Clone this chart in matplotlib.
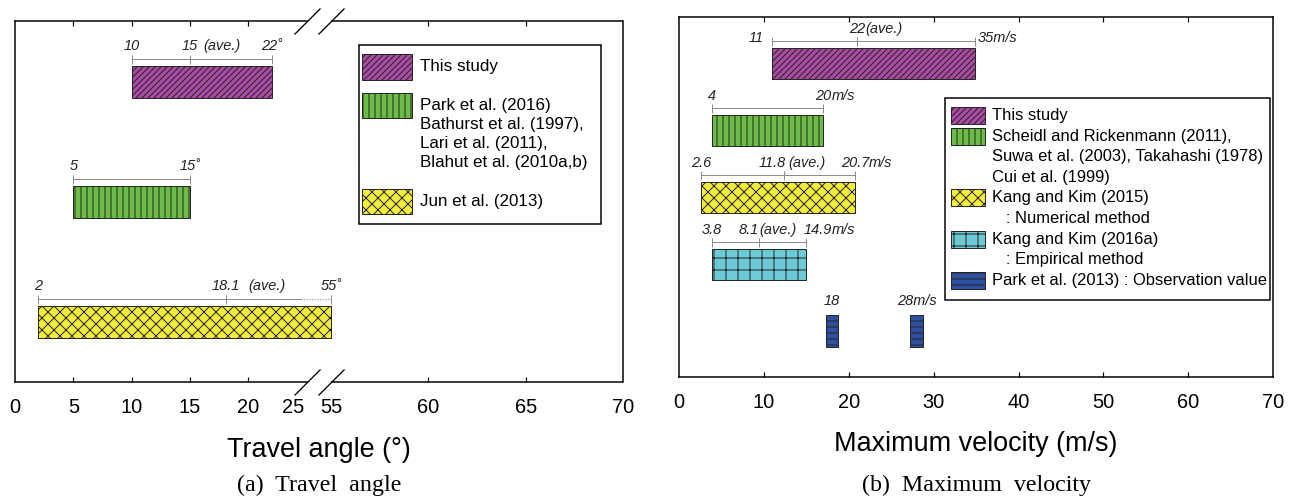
import numpy as np
import matplotlib
matplotlib.use("Agg")
import matplotlib.pyplot as plt
from matplotlib.patches import Rectangle

plt.rcParams['font.family'] = ['Liberation Sans', 'DejaVu Sans']
plt.rcParams['hatch.linewidth'] = 1.0

# (a) travel angle ranges, degrees
ang_start = [10, 5, 2]
ang_end = [22, 15, 55]
ang_ave = [15, None, 18.1]
ang_style = [0, 1, 2]
ang_legend = [("This study", 0), ("", None), ("Park et al. (2016)", 1),
              ("Bathurst et al. (1997),", None), ("Lari et al. (2011),", None),
              ("Blahut et al. (2010a,b)", None), ("", None), ("Jun et al. (2013)", 2)]
ang_ticks = [0, 5, 10, 15, 20, 25, 55, 60, 65, 70]
ang_ticklabels = ["0", "5", "10", "15", "20", "", "55", "60", "65", "70"]

# (b) maximum velocity ranges, m/s
vel_start = [10.9, 3.9, 2.6, 3.8]
vel_end = [34.9, 17.0, 20.7, 14.9]
vel_ave = [21.0, None, 12.3, 9.4]
vel_style = [0, 1, 2, 3]
obs_vel = [18, 28]
vel_legend = [("This study", 0), ("Scheidl and Rickenmann (2011),", 1),
              ("Suwa et al. (2003), Takahashi (1978)", None), ("Cui et al. (1999)", None),
              ("Kang and Kim (2015)", 2), ("   : Numerical method", None),
              ("Kang and Kim (2016a)", 3), ("   : Empirical method", None),
              ("Park et al. (2013) : Observation value", 4)]
vel_ticks = [0, 10, 20, 30, 40, 50, 60, 70]

# fill colour / hatch per study group
colors = ['#a94aa3', '#6cbd45', '#f2ec3b', '#6dcbd8', '#2f4f9f']
hatches = ['////', '||', 'xx', '+', '--']
EDGE = '#262626'
DIM = '#8c8c8c'

W, H = 1296, 499
fig = plt.figure(figsize=(W / 72, H / 72), dpi=72)


def fx(x):
    return x / W


def fy(y):
    return 1 - y / H


def add_axes(l, t, r, b):
    return fig.add_axes([fx(l), fy(b), (r - l) / W, (b - t) / H])


# broken x scale: 0-25 linear, gap, 55-70 stretched
A, B = 25.0, 55.0
GAP = 24.3 / 11.67
K = 19.47 / 11.67


def fwd(x):
    x = np.asarray(x, float)
    return np.where(x <= A, x, np.where(x >= B, A + GAP + (x - B) * K, A + (x - A) * GAP / (B - A)))


def inv(u):
    u = np.asarray(u, float)
    return np.where(u <= A, u, np.where(u >= A + GAP, B + (u - A - GAP) / K, A + (u - A) * (B - A) / GAP))


def tag(ax, y, x, text, ha='center', dx=0, dy=12, suffix=None, gap=0):
    t = ax.annotate(text, xy=(x, y), xytext=(dx, dy), textcoords='offset points',
                    ha=ha, va='center', fontsize=14.5, fontstyle='italic', color='#222222')
    if suffix:
        ax.annotate(suffix, xy=(1, 0), xycoords=t, xytext=(gap, 0), textcoords='offset points',
                    ha='left', va='bottom', fontsize=14.5, fontstyle='italic', color='#222222')


def dim_line(ax, y, x0, x1, mid=None, dotted_from=None):
    if dotted_from is None:
        ax.plot([x0, x1], [y, y], color=DIM, lw=1)
    else:
        ax.plot([x0, dotted_from], [y, y], color=DIM, lw=1)
        ax.plot([dotted_from, x1], [y, y], color=DIM, lw=1, ls=':')
    xs = [x0, x1] + ([mid] if mid is not None else [])
    ax.plot(xs, [y] * len(xs), ls='none', marker='|', ms=9, mew=1, color=DIM)


def style_axes(ax):
    for s in ax.spines.values():
        s.set_linewidth(1.5)
    ax.set_yticks([])
    ax.tick_params(axis='x', direction='in', length=5, width=1.2, top=True,
                   labelsize=20, pad=16)


def draw_legend(box, rows, x0, y0, pitch, sw, sh, gap, fs):
    l, t, r, b = box
    fig.add_artist(Rectangle((fx(l), fy(b)), (r - l) / W, (b - t) / H, fill=False,
                             lw=1.5, ec='black', transform=fig.transFigure))
    for i, (txt, k) in enumerate(rows):
        yc = y0 + i * pitch
        if k is not None:
            fig.add_artist(Rectangle((fx(x0), fy(yc + sh / 2)), sw / W, sh / H,
                                     transform=fig.transFigure, facecolor=colors[k],
                                     hatch=hatches[k], edgecolor=EDGE, lw=1))
        fig.text(fx(x0 + sw + gap), fy(yc), txt, va='center', ha='left', fontsize=fs)


# ---------------- (a) travel angle ----------------
ax1 = add_axes(15, 21, 623, 381.7)
ax1.set_xscale('function', functions=(fwd, inv))
ax1.set_xlim(0, 70)
ax1.set_ylim(2.496, -0.51)
style_axes(ax1)
h1 = 0.27
rows1 = np.arange(len(ang_start))
bars = ax1.barh(rows1, np.subtract(ang_end, ang_start), left=ang_start, height=h1,
                edgecolor=EDGE, lw=1)
for p, k in zip(bars, ang_style):
    p.set_facecolor(colors[k])
    p.set_hatch(hatches[k])

ly = rows1 - h1 / 2 - 7 / 120
dim_line(ax1, ly[0], ang_start[0], ang_end[0], ang_ave[0])
dim_line(ax1, ly[1], ang_start[1], ang_end[1])
dim_line(ax1, ly[2], ang_start[2], ang_end[2], ang_ave[2], dotted_from=24.5)

tag(ax1, ly[0], ang_start[0], "10", dy=12.5)
tag(ax1, ly[0], ang_ave[0], "15", dy=12.5, suffix="(ave.)", gap=5)
tag(ax1, ly[0], ang_end[0], "22˚", dy=12.5)
tag(ax1, ly[1], ang_start[1], "5", dy=12.5)
tag(ax1, ly[1], ang_end[1], "15˚", dy=12.5)
tag(ax1, ly[2], ang_start[2], "2", dy=12.5)
tag(ax1, ly[2], ang_ave[2], "18.1", dy=12.5, suffix="(ave.)", gap=8)
tag(ax1, ly[2], ang_end[2], "55˚", dy=12.5)

ax1.set_xticks(ang_ticks)
ax1.set_xticklabels(ang_ticklabels)
for tk, v in zip(ax1.xaxis.get_major_ticks(), ang_ticks):
    if v in (0, 25, 55, 70):
        tk.tick1line.set_visible(False)
        tk.tick2line.set_visible(False)
ax1.annotate("25", xy=(25, 0), xycoords=ax1.get_xaxis_transform(), xytext=(-14, -16),
             textcoords='offset points', ha='center', va='top', fontsize=20)

# axis break
for side in ('top', 'bottom'):
    ax1.spines[side].set_bounds(0, 25)
for yy in (0, 1):
    ax1.plot([55, 70], [yy, yy], color='black', lw=1.5, transform=ax1.get_xaxis_transform(),
             clip_on=False, solid_capstyle='butt')
    ax1.plot([25, 55], [yy, yy], ls='none', marker=[(-1, -1), (1, 1)], ms=26, mew=1.3,
             color='black', transform=ax1.get_xaxis_transform(), clip_on=False)

ax1.set_xlabel("Travel angle (°)", fontsize=27, labelpad=20)

draw_legend((359, 45.3, 600.7, 224.3), ang_legend, 362, 67, 19.2, 49.7, 25, 8.3, 17)

# ---------------- (b) maximum velocity ----------------
ax2 = add_axes(679.3, 16.7, 1273, 376.7)
ax2.set_xlim(0, 70)
ax2.set_ylim(4.68, -0.70)
style_axes(ax2)
h2 = 0.47
rows2 = np.arange(len(vel_start))
bars = ax2.barh(rows2, np.subtract(vel_end, vel_start), left=vel_start, height=h2,
                edgecolor=EDGE, lw=1)
for p, k in zip(bars, vel_style):
    p.set_facecolor(colors[k])
    p.set_hatch(hatches[k])
obs_w = 1.5
obs = ax2.barh([4] * len(obs_vel), [obs_w] * len(obs_vel),
               left=np.subtract(obs_vel, obs_w / 2), height=h2,
               color=colors[4], hatch=hatches[4], edgecolor=EDGE, lw=1)

ly2 = rows2 - h2 / 2 - 7 / 66.9
for i in range(len(vel_start)):
    dim_line(ax2, ly2[i], vel_start[i], vel_end[i], vel_ave[i])

tag(ax2, ly2[0], vel_start[0], "11", ha='right', dx=-8, dy=2.5)
tag(ax2, ly2[0], vel_ave[0], "22", suffix="(ave.)")
tag(ax2, ly2[0], vel_end[0], "35m/s", ha='left', dx=2, dy=2.5)
tag(ax2, ly2[1], vel_start[1], "4")
tag(ax2, ly2[1], vel_end[1], "20", suffix="m/s")
tag(ax2, ly2[2], vel_start[2], "2.6")
tag(ax2, ly2[2], vel_ave[2], "11.8", ha='right', dx=2, suffix="(ave.)", gap=3)
tag(ax2, ly2[2], vel_end[2], "20.7", suffix="m/s")
tag(ax2, ly2[3], vel_start[3], "3.8")
tag(ax2, ly2[3], vel_ave[3], "8.1", ha='right', suffix="(ave.)")
tag(ax2, ly2[3], vel_end[3], "14.9", ha='left', dx=-2, suffix="m/s")
tag(ax2, 4 - h2 / 2, obs_vel[0], "18", dy=14)
tag(ax2, 4 - h2 / 2, obs_vel[1], "28m/s", dy=14)

ax2.set_xticks(vel_ticks)
for tk, v in zip(ax2.xaxis.get_major_ticks(), vel_ticks):
    if v in (0, 70):
        tk.tick1line.set_visible(False)
        tk.tick2line.set_visible(False)
ax2.set_xlabel("Maximum velocity (m/s)", fontsize=27, labelpad=19)

draw_legend((945, 97.7, 1270, 300), vel_legend, 951, 115.5, 20.6, 33.6, 17, 7, 16.5)

# captions
fig.text(fx(319), fy(485), "(a)  Travel  angle", family='Liberation Serif', fontsize=24,
         ha='center', va='center')
fig.text(fx(976), fy(485), "(b)  Maximum  velocity", family='Liberation Serif', fontsize=24,
         ha='center', va='center')

fig.savefig("out.png", dpi=72)
